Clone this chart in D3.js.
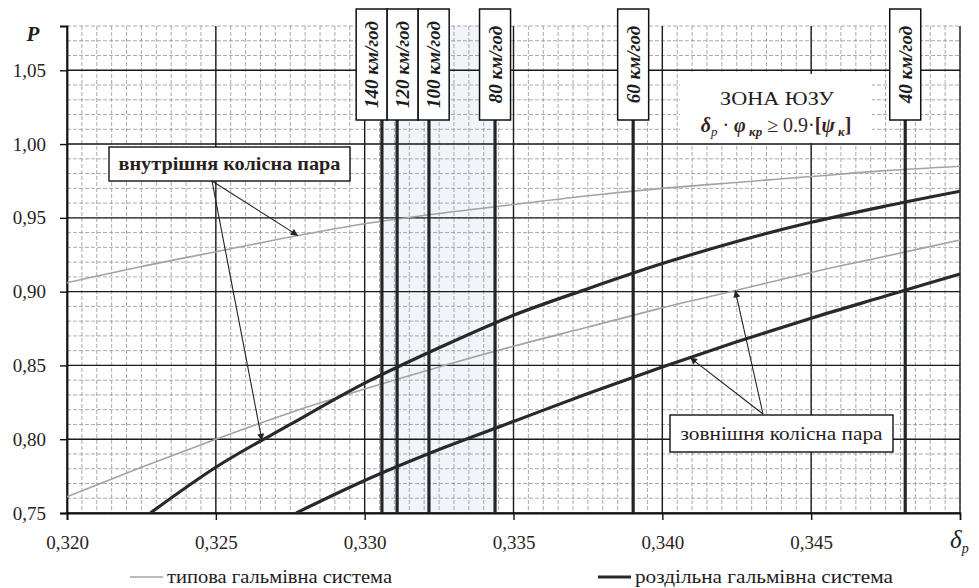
<!DOCTYPE html>
<html>
<head>
<meta charset="utf-8">
<script src="https://cdn.jsdelivr.net/npm/d3@7"></script>
<style>
  body { margin: 0; background: #fff; }
  svg { display: block; }
</style>
</head>
<body>
<svg id="chart" width="979" height="588"></svg>
<script>
// ---- axis ranges and tick values ----
const xDomain = [0.320, 0.350];
const yDomain = [0.75, 1.08];
const xTickValues = [0.320, 0.325, 0.330, 0.335, 0.340, 0.345];
const yTickValues = [0.75, 0.80, 0.85, 0.90, 0.95, 1.00, 1.05];

// ---- typical braking system (thin grey curves) ----
const deltaTypical = [0.320, 0.3225, 0.325, 0.3275, 0.330, 0.3325, 0.335, 0.3375, 0.340, 0.3425, 0.345, 0.3475, 0.350];
const typicalInner = [0.906, 0.917, 0.927, 0.937, 0.946, 0.953, 0.959, 0.965, 0.970, 0.974, 0.978, 0.982, 0.985];
const typicalOuter = [0.761, 0.781, 0.800, 0.818, 0.834, 0.849, 0.863, 0.876, 0.889, 0.901, 0.913, 0.924, 0.935];

// ---- separate braking system (thick dark curves) ----
const deltaSeparateInner = [0.3228, 0.325, 0.3275, 0.330, 0.3325, 0.335, 0.3375, 0.340, 0.3425, 0.345, 0.3475, 0.350];
const separateInner = [0.750, 0.781, 0.810, 0.838, 0.862, 0.884, 0.902, 0.919, 0.934, 0.947, 0.958, 0.968];
const deltaSeparateOuter = [0.3277, 0.330, 0.3325, 0.335, 0.3375, 0.340, 0.3425, 0.345, 0.3475, 0.350];
const separateOuter = [0.750, 0.772, 0.793, 0.812, 0.831, 0.849, 0.866, 0.882, 0.897, 0.912];

// ---- speed markers ----
const speedLabels = ["140 км/год", "120 км/год", "100 км/год", "80 км/год", "60 км/год", "40 км/год"];
const speedDelta = [0.33058, 0.33109, 0.33216, 0.33438, 0.33902, 0.34816];

// ---- callout targets (δ where each arrow meets its curve) ----
const innerTargets = [0.32776, 0.32655];
const outerTargets = [0.34245, 0.34093];

const legendLabels = ["типова гальмівна система", "роздільна гальмівна система"];

const FONT = '"Liberation Serif", "Times New Roman", "Liberation Sans", "DejaVu Sans", sans-serif';

const svg = d3.select("#chart").attr("font-family", FONT);
const W = 979, H = 588;
const plot = { left: 67, right: 960, top: 26, bottom: 513 };

const x = d3.scaleLinear().domain(xDomain).range([plot.left, plot.right]);
const y = d3.scaleLinear().domain(yDomain).range([plot.bottom, plot.top]);
const fmt = v => d3.format(".2f")(v).replace(".", ",");
const fmtX = v => d3.format(".3f")(v).replace(".", ",");

svg.append("rect").attr("width", W).attr("height", H).attr("fill", "#fff");

// faint tint in the high-speed band
svg.append("rect")
  .attr("x", x(speedDelta[0])).attr("y", plot.top)
  .attr("width", x(speedDelta[3]) - x(speedDelta[0]))
  .attr("height", plot.bottom - plot.top)
  .attr("fill", "#f1f4f9");

// ---- minor grid ----
const minorX = d3.range(0, 61).map(i => xDomain[0] + i * 0.0005);
const minorY = d3.range(0, 34).map(i => yDomain[0] + i * 0.01);
const gMinor = svg.append("g")
  .attr("stroke", "#8f959e").attr("stroke-width", 0.8)
  .attr("stroke-dasharray", "4,2").attr("fill", "none");
gMinor.selectAll("line.vx").data(minorX).join("line")
  .attr("x1", d => x(d)).attr("x2", d => x(d))
  .attr("y1", plot.top).attr("y2", plot.bottom);
gMinor.selectAll("line.hy").data(minorY).join("line")
  .attr("x1", plot.left).attr("x2", plot.right)
  .attr("y1", d => y(d)).attr("y2", d => y(d));

// ---- major grid ----
const gMajor = svg.append("g").attr("stroke", "#1c1c1c").attr("stroke-width", 1.4);
gMajor.selectAll("line.mx").data(xTickValues.concat([xDomain[1]])).join("line")
  .attr("x1", d => x(d)).attr("x2", d => x(d))
  .attr("y1", plot.top).attr("y2", plot.bottom);
gMajor.selectAll("line.my").data(yTickValues).join("line")
  .attr("x1", plot.left).attr("x2", plot.right)
  .attr("y1", d => y(d)).attr("y2", d => y(d));

// ---- axes ----
const xAxis = d3.axisBottom(x).tickValues(xTickValues).tickSize(7).tickPadding(16).tickFormat(fmtX);
const yAxis = d3.axisLeft(y).tickValues(yTickValues).tickSize(7).tickPadding(14).tickFormat(fmt);

const gx = svg.append("g").attr("transform", `translate(0,${plot.bottom})`).call(xAxis);
const gy = svg.append("g").attr("transform", `translate(${plot.left},0)`).call(yAxis);
[gx, gy].forEach(g => {
  g.attr("font-family", FONT).attr("font-size", 19);
  g.select(".domain").attr("stroke", "#111").attr("stroke-width", 1.8);
  g.selectAll(".tick line").attr("stroke", "#111").attr("stroke-width", 1.4);
  g.selectAll(".tick text").attr("fill", "#2b2222");
});

// ---- curves ----
const line = d3.line().x(d => x(d[0])).y(d => y(d[1])).curve(d3.curveMonotoneX);
const zip = (a, b) => a.map((v, i) => [v, b[i]]);
const series = [
  { pts: zip(deltaTypical, typicalInner), color: "#a3a3a3", width: 1.6 },
  { pts: zip(deltaTypical, typicalOuter), color: "#a3a3a3", width: 1.6 },
  { pts: zip(deltaSeparateInner, separateInner), color: "#262a2c", width: 3.2 },
  { pts: zip(deltaSeparateOuter, separateOuter), color: "#262a2c", width: 3.2 }
];
svg.append("g").selectAll("path").data(series).join("path")
  .attr("d", d => line(d.pts))
  .attr("fill", "none")
  .attr("stroke", d => d.color)
  .attr("stroke-width", d => d.width)
  .attr("stroke-linecap", "butt");

// ---- speed lines with rotated label boxes ----
const boxW = 31, boxTop = 9, boxH = 111;
let groups = speedDelta.map((d, i) => ({ items: [i], xs: [x(d)] }));
let merged = true;
const place = g => {
  const c = d3.mean(g.xs);
  return g.xs.map((_, k) => c + (k - (g.xs.length - 1) / 2) * boxW);
};
while (merged) {
  merged = false;
  for (let i = 0; i < groups.length - 1; i++) {
    const a = place(groups[i]), b = place(groups[i + 1]);
    if (b[0] - a[a.length - 1] < boxW) {
      groups[i] = { items: groups[i].items.concat(groups[i + 1].items), xs: groups[i].xs.concat(groups[i + 1].xs) };
      groups.splice(i + 1, 1);
      merged = true;
      break;
    }
  }
}
const boxCenters = [];
groups.forEach(g => place(g).forEach((c, k) => { boxCenters[g.items[k]] = c; }));

const gSpeed = svg.append("g");
gSpeed.selectAll("line").data(speedDelta).join("line")
  .attr("x1", d => x(d)).attr("x2", d => x(d))
  .attr("y1", boxTop + boxH).attr("y2", plot.bottom)
  .attr("stroke", "#222629").attr("stroke-width", 3.2);
const gBox = gSpeed.selectAll("g.box").data(speedLabels).join("g")
  .attr("transform", (d, i) => `translate(${boxCenters[i]},${boxTop + boxH / 2})`);
gBox.append("rect")
  .attr("x", -boxW / 2).attr("y", -boxH / 2)
  .attr("width", boxW).attr("height", boxH)
  .attr("fill", "#fff").attr("stroke", "#111").attr("stroke-width", 1.5);
gBox.append("text")
  .attr("transform", "rotate(-90)")
  .attr("text-anchor", "middle").attr("dy", "0.35em")
  .attr("font-size", 19).attr("font-weight", "bold").attr("font-style", "italic")
  .attr("fill", "#1d1d1d")
  .text(d => d);

// ---- zone note ----
const zone = svg.append("g");
zone.append("rect").attr("x", 680).attr("y", 74).attr("width", 192).attr("height", 69).attr("fill", "#fff");
zone.append("text").attr("x", 720).attr("y", 105)
  .attr("font-size", 19).attr("fill", "#241c1c")
  .attr("textLength", 114).attr("lengthAdjust", "spacingAndGlyphs")
  .text("ЗОНА ЮЗУ");
const f = zone.append("text").attr("x", 776).attr("y", 132).attr("text-anchor", "middle")
  .attr("font-size", 20).attr("fill", "#3a1f1f");
f.append("tspan").attr("font-weight", "bold").attr("font-style", "italic").text("δ");
f.append("tspan").attr("font-style", "italic").attr("font-size", 13).attr("dy", 4).text("p");
f.append("tspan").attr("dy", -4).text(" · ");
f.append("tspan").attr("font-weight", "bold").attr("font-style", "italic").text("φ");
f.append("tspan").attr("font-style", "italic").attr("font-weight", "bold").attr("font-size", 13).attr("dy", 4).text(" кр");
f.append("tspan").attr("dy", -4).text(" ≥ 0.9·");
f.append("tspan").attr("font-weight", "bold").text("[");
f.append("tspan").attr("font-weight", "bold").attr("font-style", "italic").text("ψ");
f.append("tspan").attr("font-weight", "bold").attr("font-style", "italic").attr("font-size", 13).attr("dy", 4).text(" к");
f.append("tspan").attr("font-weight", "bold").attr("dy", -4).text("]");

// ---- callouts ----
svg.append("defs").append("marker")
  .attr("id", "arrow").attr("viewBox", "0 0 10 10")
  .attr("refX", 10).attr("refY", 5)
  .attr("markerWidth", 9).attr("markerHeight", 7)
  .attr("markerUnits", "userSpaceOnUse")
  .attr("orient", "auto")
  .append("path").attr("d", "M0,0 L10,5 L0,10 Z").attr("fill", "#222");

const interp = (xs, ys, v) => {
  const i = Math.max(1, Math.min(xs.length - 1, d3.bisectLeft(xs, v)));
  const t = (v - xs[i - 1]) / (xs[i] - xs[i - 1]);
  return ys[i - 1] + t * (ys[i] - ys[i - 1]);
};

const callouts = [
  { text: "внутрішня колісна пара", bold: true, box: [109, 147, 241, 34], anchor: [212, 181], len: 222,
    targets: [[innerTargets[0], interp(deltaTypical, typicalInner, innerTargets[0])],
              [innerTargets[1], interp(deltaSeparateInner, separateInner, innerTargets[1])]] },
  { text: "зовнішня колісна пара", bold: false, box: [670, 415, 223, 37], anchor: [763, 414], len: 202,
    targets: [[outerTargets[0], interp(deltaTypical, typicalOuter, outerTargets[0])],
              [outerTargets[1], interp(deltaSeparateOuter, separateOuter, outerTargets[1])]] }
];
const gc = svg.append("g");
callouts.forEach(c => {
  c.targets.forEach(t => {
    gc.append("line")
      .attr("x1", c.anchor[0]).attr("y1", c.anchor[1])
      .attr("x2", x(t[0])).attr("y2", y(t[1]))
      .attr("stroke", "#222").attr("stroke-width", 1.1)
      .attr("marker-end", "url(#arrow)");
  });
  gc.append("rect")
    .attr("x", c.box[0]).attr("y", c.box[1]).attr("width", c.box[2]).attr("height", c.box[3])
    .attr("fill", "#fff").attr("stroke", "#111").attr("stroke-width", 1.4);
  gc.append("text")
    .attr("x", c.box[0] + (c.box[2] - c.len) / 2).attr("y", c.box[1] + c.box[3] / 2)
    .attr("dy", "0.32em")
    .attr("font-size", 19).attr("font-weight", c.bold ? "bold" : "normal")
    .attr("textLength", c.len).attr("lengthAdjust", "spacingAndGlyphs")
    .attr("fill", "#2a1d1d").text(c.text);
});

// ---- axis titles ----
svg.append("text").attr("x", 33).attr("y", 41).attr("text-anchor", "middle")
  .attr("font-size", 21).attr("font-weight", "bold").attr("font-style", "italic")
  .attr("fill", "#1d1d1d").text("P");
const dx = svg.append("text").attr("x", 950).attr("y", 548)
  .attr("font-size", 25).attr("font-style", "italic").attr("fill", "#1d1d1d");
dx.append("tspan").text("δ");
dx.append("tspan").attr("font-size", 14).attr("dy", 5).text("p");

// ---- legend ----
const legend = [
  { x0: 130, x1: 163, color: "#a3a3a3", width: 1.6, label: legendLabels[0], len: 225 },
  { x0: 598, x1: 631, color: "#262a2c", width: 3.2, label: legendLabels[1], len: 258 }
];
const gl = svg.append("g");
legend.forEach(l => {
  gl.append("line").attr("x1", l.x0).attr("x2", l.x1).attr("y1", 577).attr("y2", 577)
    .attr("stroke", l.color).attr("stroke-width", l.width);
  gl.append("text").attr("x", l.x1 + 4).attr("y", 583)
    .attr("font-size", 19).attr("fill", "#1d1d1d")
    .attr("textLength", l.len).attr("lengthAdjust", "spacingAndGlyphs")
    .text(l.label);
});
</script>
</body>
</html>
